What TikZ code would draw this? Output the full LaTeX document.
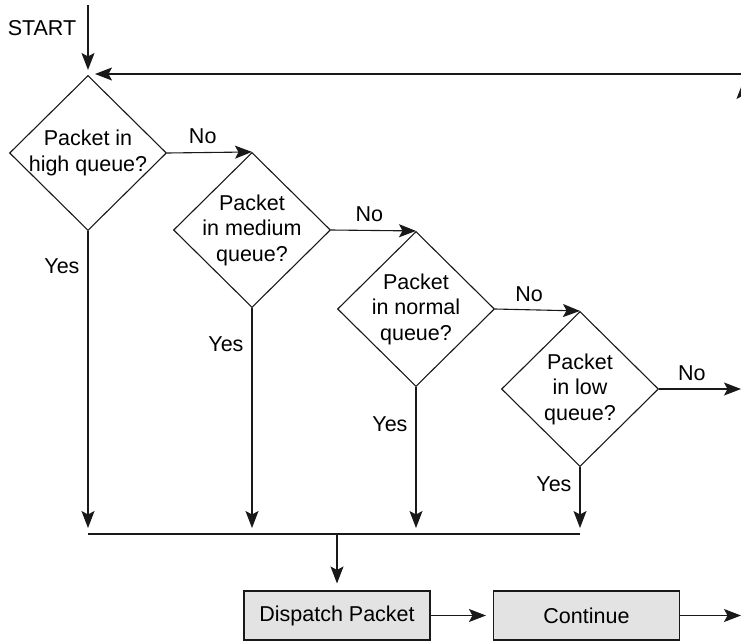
\documentclass[tikz,border=0pt]{standalone}
\usepackage{fontspec}
\setmainfont{Liberation Sans}
\usetikzlibrary{shapes.geometric,arrows.meta}

\begin{document}
\begin{tikzpicture}[x=1pt,y=-1pt,
    ink/.style={draw=black!90,line width=1.1pt},
    arr/.style={ink,-{Stealth[length=17pt,width=13pt,inset=3.5pt]}},
    test/.style={ink,diamond,minimum width=157pt,minimum height=155pt,inner sep=-14pt,
        align=center,font=\fontsize{21.5}{25.5}\selectfont},
    box/.style={ink,fill=gray!22,minimum width=186pt,minimum height=49pt,
        font=\fontsize{21.5}{24}\selectfont},
    lbl/.style={font=\fontsize{21.5}{24}\selectfont,inner sep=0pt}]
    \useasboundingbox (0,0) rectangle (741,640);

    \node[test] (hi)   at (88,153)  {Packet in\\high queue?};
    \node[test] (med)  at (252,230) {Packet\\in medium\\queue?};
    \node[test] (norm) at (416,309) {Packet\\in normal\\queue?};
    \node[test] (low)  at (580,389) {Packet\\in low\\queue?};

    \node[box] (disp) at (337,615.5) {Dispatch Packet};
    \node[box] (cont) at (586.5,615.5) {Continue};

    \node[lbl] (start) at (42,28) {START};
    \coordinate (top)  at (88,5);
    \coordinate (back) at (741,74);
    \coordinate (up)   at (743,130);
    \coordinate (loop) at (743,82);
    \coordinate (out)  at (741,389);
    \coordinate (jl)   at (88,534);
    \coordinate (jr)   at (580,534);
    \coordinate (jm)   at (337,534);
    \coordinate (done) at (741,615.5);

    % into the first test
    \draw[arr,shorten >=5pt] (top) -- (hi.north);
    \draw[arr,shorten >=7pt] (back) -- (back -| hi.north);
    \draw[arr] (up) -- (loop);

    % No branches
    \draw[arr] (hi.east) -- node[lbl,above=8pt,pos=0.42] {No} (med.north);
    \draw[arr] (med.east) -- node[lbl,above=8pt,pos=0.45] {No} (norm.north);
    \draw[arr] (norm.east) -- node[lbl,above=8pt,pos=0.4] {No} (low.north);
    \draw[arr] (low.east) -- node[lbl,above=8pt,pos=0.4] {No} (out);

    % Yes branches
    \draw[arr,shorten >=6pt] (hi.south) -- ++(0,35) node[lbl,left=8pt] {Yes} -- (hi.south |- jl);
    \draw[arr,shorten >=6pt] (med.south) -- ++(0,36) node[lbl,left=8pt] {Yes} -- (med.south |- jl);
    \draw[arr,shorten >=6pt] (norm.south) -- ++(0,37) node[lbl,left=8pt] {Yes} -- (norm.south |- jl);
    \draw[arr,shorten >=6pt] (low.south) -- ++(0,17) node[lbl,left=8pt] {Yes} -- (low.south |- jl);

    \draw[ink] (jl) -- (jr);
    \draw[arr,shorten >=7pt] (jm) -- (disp.north);
    \draw[arr,shorten >=7pt] (disp.east) -- (cont.west);
    \draw[arr] (cont.east) -- (done);
\end{tikzpicture}
\end{document}
